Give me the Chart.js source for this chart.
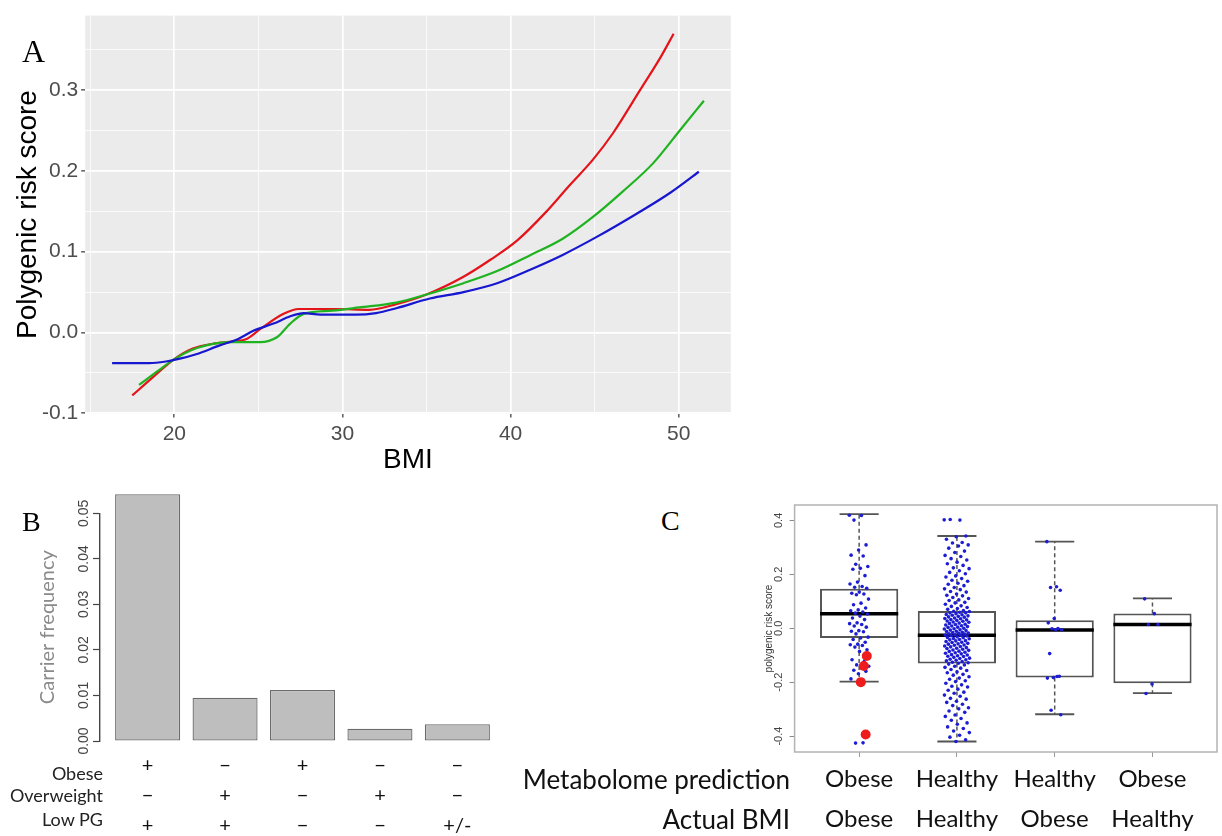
<!DOCTYPE html>
<html>
<head>
<meta charset="utf-8">
<script src="https://cdn.jsdelivr.net/npm/chart.js@4.4.1/dist/chart.umd.min.js"></script>
<style>
  body { margin: 0; background: #fff; }
  #wrap { position: relative; width: 1222px; height: 836px; overflow: hidden; }
  canvas, .lbl { position: absolute; }
  .panel { font-family: "Liberation Serif", serif; line-height: 1; color: #000; }
  .row { font-family: Lato, sans-serif; color: #222; text-align: right; white-space: nowrap; }
</style>
</head>
<body>
<div id="wrap">
  <canvas id="chartA" width="740" height="480" style="left:0;top:0"></canvas>
  <canvas id="chartB" width="520" height="356" style="left:0;top:480px"></canvas>
  <canvas id="chartC" width="482" height="346" style="left:740px;top:490px"></canvas>
  <div class="lbl panel" style="left:22px;top:35px;font-size:32px">A</div>
  <div class="lbl panel" style="left:22px;top:508px;font-size:28px">B</div>
  <div class="lbl panel" style="left:661px;top:507px;font-size:28px">C</div>
  <div class="lbl row" style="right:1119px;top:762px;font-size:18px;line-height:22px">Obese</div>
  <div class="lbl row" style="right:1119px;top:784px;font-size:18px;line-height:22px">Overweight</div>
  <div class="lbl row" style="right:1119px;top:808px;font-size:18px;line-height:22px">Low PG</div>
  <div class="lbl row" style="right:432px;top:762px;font-size:26px;line-height:34px;color:#111">Metabolome prediction</div>
  <div class="lbl row" style="right:432px;top:802px;font-size:26px;line-height:34px;color:#111">Actual BMI</div>
</div>
<script>
// ---- panel A: polygenic risk score along BMI, one smoothed curve per group
const bmiRed = [17.5, 18.7, 20.0, 21.1, 22.3, 23.5, 24.3, 25.1, 26.5, 27.4, 29.6, 31.6, 33.2, 35.0, 37.2, 38.8, 40.4, 42.1, 43.5, 44.9, 46.1, 47.7, 48.9, 49.7];
const prsRed = [-0.078, -0.056, -0.033, -0.020, -0.014, -0.011, -0.008, 0.004, 0.023, 0.029, 0.029, 0.028, 0.035, 0.047, 0.069, 0.090, 0.114, 0.149, 0.182, 0.214, 0.247, 0.300, 0.340, 0.370];
const bmiGreen = [17.9, 19.0, 20.0, 21.0, 21.9, 23.3, 25.1, 26.1, 26.9, 27.7, 29.4, 31.0, 33.2, 35.0, 37.2, 39.2, 41.2, 43.1, 44.9, 46.7, 48.5, 50.1, 51.5];
const prsGreen = [-0.065, -0.048, -0.033, -0.022, -0.016, -0.012, -0.012, -0.006, 0.011, 0.023, 0.027, 0.031, 0.037, 0.047, 0.061, 0.076, 0.096, 0.116, 0.143, 0.175, 0.210, 0.251, 0.287];
const bmiBlue = [16.3, 18.5, 19.5, 20.0, 21.3, 22.7, 23.7, 24.7, 25.9, 26.9, 27.7, 28.7, 30.8, 32.0, 33.2, 35.2, 37.2, 39.2, 41.2, 43.1, 45.1, 47.5, 49.5, 51.2];
const prsBlue = [-0.038, -0.038, -0.036, -0.034, -0.027, -0.016, -0.009, 0.002, 0.011, 0.020, 0.024, 0.022, 0.022, 0.024, 0.030, 0.042, 0.050, 0.061, 0.078, 0.096, 0.118, 0.147, 0.173, 0.199];
const bmiGrid = [15, 20, 25, 30, 35, 40, 45, 50];
const bmiLabels = [20, 30, 40, 50];
const prsGrid = [-0.1, -0.05, 0, 0.05, 0.1, 0.15, 0.2, 0.25, 0.3, 0.35];
const prsLabels = [-0.1, 0, 0.1, 0.2, 0.3];

// ---- panel B: carrier frequency per phenotype combination
const carrierFreq = [0.0542, 0.0095, 0.0112, 0.0027, 0.0037];
const obeseRow = ['+', '\u2212', '+', '\u2212', '\u2212'];
const overweightRow = ['\u2212', '+', '\u2212', '+', '\u2212'];
const lowPgRow = ['+', '+', '\u2212', '\u2212', '+/-'];
const freqTicks = [0, 0.01, 0.02, 0.03, 0.04, 0.05];

// ---- panel C: risk score by metabolome prediction vs actual BMI
const predLabels = ['Obese', 'Healthy', 'Healthy', 'Obese'];
const actualLabels = ['Obese', 'Healthy', 'Obese', 'Healthy'];
const boxQ1 = [-0.036, -0.131, -0.183, -0.204];
const boxMed = [0.054, -0.026, -0.007, 0.014];
const boxQ3 = [0.146, 0.064, 0.030, 0.055];
const whiskLo = [-0.198, -0.420, -0.319, -0.241];
const whiskHi = [0.423, 0.342, 0.321, 0.111];
const scoreTicks = [-0.4, -0.2, 0, 0.2, 0.4];
const redObese = [-0.103, -0.140, -0.200, -0.394];
const ptsObeseObese = [0.419, 0.418, 0.401, 0.309, 0.290, 0.271, 0.268, 0.237, 0.229, 0.222, 0.219, 0.195, 0.171, 0.164, 0.155, 0.152, 0.148, 0.134, 0.130, 0.127, 0.124, 0.108, 0.093, 0.087, 0.075, 0.068, 0.065, 0.060, 0.056, 0.053, 0.045, 0.038, 0.032, 0.020, 0.017, 0.014, 0.008, 0.004, -0.009, -0.011, -0.013, -0.021, -0.033, -0.036, -0.042, -0.052, -0.059, -0.061, -0.064, -0.070, -0.080, -0.086, -0.117, -0.124, -0.136, -0.141, -0.147, -0.156, -0.160, -0.169, -0.188, -0.425, -0.426];
const ptsHealthyHealthy = [0.402, 0.401, 0.403, 0.342, 0.339, 0.330, 0.318, 0.316, 0.309, 0.305, 0.297, 0.286, 0.281, 0.270, 0.266, 0.258, 0.253, 0.245, 0.239, 0.233, 0.224, 0.221, 0.213, 0.207, 0.202, 0.194, 0.190, 0.184, 0.178, 0.174, 0.167, 0.163, 0.158, 0.151, 0.146, 0.143, 0.136, 0.134, 0.127, 0.122, 0.120, 0.114, 0.110, 0.105, 0.103, 0.096, 0.094, 0.089, 0.083, 0.081, 0.077, 0.073, 0.070, 0.066,
  0.063, 0.062, 0.059, 0.057, 0.057, 0.054, 0.051, 0.050, 0.048, 0.046, 0.044, 0.042, 0.041, 0.038, 0.036, 0.035, 0.032, 0.031, 0.029, 0.027, 0.026, 0.023, 0.022, 0.019, 0.018, 0.015, 0.014, 0.012, 0.009, 0.008, 0.006, 0.004, 0.003, 0.000, -0.002, -0.003, -0.006, -0.007, -0.009, -0.011, -0.012, -0.015, -0.016, -0.018, -0.019, -0.021, -0.022, -0.024, -0.025, -0.026,
  -0.028, -0.029, -0.032, -0.034, -0.035, -0.038, -0.039, -0.042, -0.043, -0.046, -0.047, -0.049, -0.052, -0.053, -0.056, -0.058, -0.059, -0.062, -0.063, -0.066, -0.068, -0.069, -0.072, -0.074, -0.075, -0.078, -0.081, -0.082, -0.085, -0.086, -0.089, -0.091, -0.093, -0.095, -0.098, -0.099, -0.102, -0.104, -0.105, -0.108, -0.111, -0.112, -0.115, -0.117, -0.119, -0.121, -0.124, -0.126, -0.128, -0.130,
  -0.133, -0.136, -0.141, -0.145, -0.148, -0.153, -0.157, -0.162, -0.165, -0.171, -0.174, -0.180, -0.185, -0.189, -0.195, -0.198, -0.204, -0.210, -0.215, -0.218, -0.226, -0.230, -0.237, -0.241, -0.248, -0.252, -0.260, -0.263, -0.271, -0.275, -0.282, -0.287, -0.295, -0.299, -0.307, -0.312, -0.322, -0.327, -0.335, -0.341, -0.351, -0.356, -0.366, -0.372, -0.381, -0.387, -0.397, -0.404, -0.414, -0.420];
const ptsHealthyObese = [0.321, 0.154, 0.151, 0.141, 0.036, 0.020, -0.001, -0.002, -0.006, -0.006, -0.094, -0.178, -0.183, -0.185, -0.179, -0.304, -0.321];
const ptsObeseHealthy = [0.109, 0.054, 0.014, 0.014, -0.207, -0.242];

const SANS = '"Liberation Sans", Arial, sans-serif';
const CALI = 'Lato, "Open Sans", sans-serif';
const base = { responsive: false, animation: false, events: [], plugins: { legend: { display: false }, tooltip: { enabled: false } } };

const panelBg = { id: 'panelBg', beforeDraw(c, a, o) {
  const { ctx, chartArea: ca } = c;
  ctx.save(); ctx.fillStyle = o.color; ctx.fillRect(ca.left, ca.top, ca.width, ca.height); ctx.restore();
} };
const frame = { id: 'frame', afterDraw(c, a, o) {
  const { ctx, chartArea: ca } = c;
  ctx.save(); ctx.strokeStyle = o.color; ctx.lineWidth = o.width; ctx.strokeRect(ca.left, ca.top, ca.width, ca.height); ctx.restore();
} };

function curve(xs, ys, color) {
  return { data: xs.map((x, i) => ({ x, y: ys[i] })), borderColor: color, borderWidth: 2.2, pointRadius: 0, cubicInterpolationMode: 'monotone', fill: false };
}
const isMajorX = v => bmiLabels.includes(v);
const isMajorY = v => prsLabels.some(p => Math.abs(p - v) < 1e-9);

new Chart(document.getElementById('chartA'), {
  type: 'line',
  data: { datasets: [curve(bmiBlue, prsBlue, '#1717cf'), curve(bmiGreen, prsGreen, '#20b320'), curve(bmiRed, prsRed, '#e3141a')] },
  options: { ...base,
    layout: { padding: { left: 0, top: 11.5, right: 9.2, bottom: 0 } },
    plugins: { ...base.plugins, panelBg: { color: '#ebebeb' } },
    scales: {
      x: { type: 'linear', min: 14.7, max: 53.1,
        afterBuildTicks: s => { s.ticks = bmiGrid.map(v => ({ value: v })); },
        afterFit: s => { s.height = 66.5; },
        border: { display: false },
        grid: { color: '#fff', lineWidth: c => isMajorX(c.tick.value) ? 1.7 : 0.8, tickLength: 4, tickWidth: 1.2,
          tickColor: c => isMajorX(c.tick.value) ? '#333' : 'rgba(0,0,0,0)' },
        ticks: { padding: 4, color: '#4d4d4d', font: { family: SANS, size: 21 }, maxRotation: 0, autoSkip: false,
          callback: v => isMajorX(v) ? String(v) : '' },
        title: { display: true, text: 'BMI', color: '#000', font: { family: SANS, size: 28 }, padding: { top: 0, bottom: 3 } } },
      y: { min: -0.1004, max: 0.3924,
        afterBuildTicks: s => { s.ticks = prsGrid.map(v => ({ value: v })); },
        afterFit: s => { s.width = 85.2; },
        border: { display: false },
        grid: { color: '#fff', lineWidth: c => isMajorY(c.tick.value) ? 1.7 : 0.8, tickLength: 4, tickWidth: 1.2,
          tickColor: c => isMajorY(c.tick.value) ? '#333' : 'rgba(0,0,0,0)' },
        ticks: { padding: 3, color: '#4d4d4d', font: { family: SANS, size: 21 }, autoSkip: false,
          callback: v => isMajorY(v) ? v.toFixed(1) : '' },
        title: { display: true, text: 'Polygenic risk score', color: '#000', font: { family: SANS, size: 28 }, padding: { top: 11, bottom: 0 } } }
    } },
  plugins: [panelBg]
});

new Chart(document.getElementById('chartB'), {
  type: 'bar',
  data: { datasets: [{ data: carrierFreq.map((v, i) => ({ x: i + 1, y: v })), backgroundColor: '#bebebe', borderColor: '#6b6b6b',
    borderWidth: 1.3, borderSkipped: false, barPercentage: 0.84, categoryPercentage: 1, clip: false }] },
  options: { ...base,
    layout: { padding: { left: 0, top: 33.3, right: 23.9, bottom: 0 } },
    scales: {
      x: { type: 'linear', min: 0.385, max: 5.5, offset: false,
        afterBuildTicks: s => { s.ticks = carrierFreq.map((v, i) => ({ value: i + 1 })); },
        afterFit: s => { s.height = 95; },
        border: { display: false }, grid: { display: false, drawTicks: false, offset: false },
        ticks: { padding: 9.8, color: '#111', font: { family: CALI, size: 20, lineHeight: '29.7px' }, maxRotation: 0, autoSkip: false,
          callback: v => [obeseRow[v - 1], overweightRow[v - 1], lowPgRow[v - 1]] } },
      y: { min: 0, max: 0.05,
        afterBuildTicks: s => { s.ticks = freqTicks.map(v => ({ value: v })); },
        afterFit: s => { s.width = 100; },
        border: { display: true, color: '#444', width: 1.4 },
        grid: { drawOnChartArea: false, tickLength: 7, color: '#444', tickWidth: 1.2 },
        ticks: { minRotation: 90, maxRotation: 90, crossAlign: 'center', padding: -5, color: '#444', font: { family: SANS, size: 14 },
          callback: v => v.toFixed(2) },
        title: { display: true, text: 'Carrier frequency', color: '#8a8a8a', font: { family: CALI, size: 20 }, padding: { top: 36, bottom: 0 } } }
    } }
});

// whisker / cap / median segments built from the box statistics, null breaks the line
const jit = (i, w) => (((i * 0.618034) % 1) - 0.5) * 2 * w;
const seg = (pairs) => pairs.flatMap(([x0, y0, x1, y1]) => [{ x: x0, y: y0 }, { x: x1, y: y1 }, { x: x1, y: null }]);
const medSegs = seg(boxMed.map((m, i) => [i + 0.6, m, i + 1.4, m]));
const capSegs = seg(boxQ1.flatMap((q, i) => [[i + 0.8, whiskHi[i], i + 1.2, whiskHi[i]], [i + 0.8, whiskLo[i], i + 1.2, whiskLo[i]]]));
const whiskSegs = seg(boxQ1.flatMap((q, i) => [[i + 1, boxQ3[i], i + 1, whiskHi[i]], [i + 1, q, i + 1, whiskLo[i]]]));
const groups = [[ptsObeseObese, 0.1], [ptsHealthyHealthy, 0.13], [ptsHealthyObese, 0.08], [ptsObeseHealthy, 0.08]];
const bluePts = groups.flatMap(([vals, w], g) => vals.map((y, i) => ({ x: g + 1 + jit(i, w), y })));
const redPts = redObese.map((y, i) => ({ x: 1 + 0.05 + jit(i + 3, 0.04), y }));

new Chart(document.getElementById('chartC'), {
  type: 'bar',
  data: { datasets: [
    { type: 'scatter', data: redPts, pointRadius: 5, backgroundColor: '#ee1c1c', borderWidth: 0 },
    { type: 'scatter', data: bluePts, pointRadius: 1.8, backgroundColor: '#1d1dd3', borderWidth: 0 },
    { type: 'line', data: medSegs, borderColor: '#000', borderWidth: 3.5, pointRadius: 0, spanGaps: false },
    { type: 'line', data: capSegs, borderColor: '#555', borderWidth: 1.8, pointRadius: 0, spanGaps: false },
    { type: 'line', data: whiskSegs, borderColor: '#555', borderWidth: 1.5, borderDash: [4, 3], pointRadius: 0, spanGaps: false },
    { type: 'bar', data: boxQ1.map((q, i) => ({ x: i + 1, y: [q, boxQ3[i]] })), backgroundColor: '#fff', borderColor: '#555',
      borderWidth: 2, borderSkipped: false, barPercentage: 1, categoryPercentage: 0.8 }
  ] },
  options: { ...base,
    layout: { padding: { left: 0, top: 15, right: 1.4, bottom: 0 } },
    plugins: { ...base.plugins, frame: { color: '#b3b3b3', width: 1.5 } },
    scales: {
      x: { type: 'linear', min: 0.34, max: 4.66, offset: false,
        afterBuildTicks: s => { s.ticks = predLabels.map((v, i) => ({ value: i + 1 })); },
        afterFit: s => { s.height = 84; },
        border: { display: false },
        grid: { drawOnChartArea: false, offset: false, tickLength: 5, color: '#999' },
        ticks: { padding: 2, color: '#111', font: { family: CALI, size: 24, lineHeight: '40px' }, maxRotation: 0, autoSkip: false,
          callback: v => [predLabels[v - 1], actualLabels[v - 1]] } },
      y: { min: -0.459, max: 0.457,
        afterBuildTicks: s => { s.ticks = scoreTicks.map(v => ({ value: v })); },
        afterFit: s => { s.width = 54.6; },
        border: { display: false },
        grid: { drawOnChartArea: false, tickLength: 5, color: '#888' },
        ticks: { minRotation: 90, maxRotation: 90, crossAlign: 'center', padding: 1, color: '#444', font: { family: SANS, size: 11 },
          callback: v => v.toFixed(1) },
        title: { display: true, text: 'polygenic risk score', color: '#333', font: { family: SANS, size: 10 }, padding: { top: 23, bottom: 0 } } }
    } },
  plugins: [frame]
});
</script>
</body>
</html>
